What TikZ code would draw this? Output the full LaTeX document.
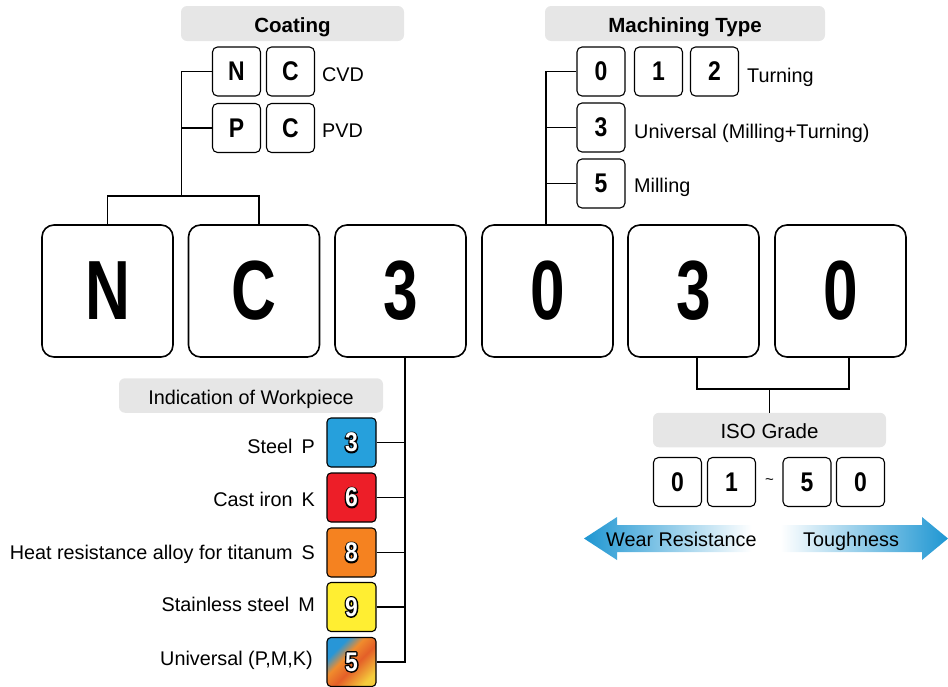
\documentclass[tikz,border=0pt]{standalone}
\usepackage{fontspec}
\setmainfont{Liberation Sans}
\newfontfamily\bigcond[FakeStretch=0.74]{Liberation Sans}
\newfontfamily\smallcond[FakeStretch=0.85]{Liberation Sans}
\definecolor{lgray}{RGB}{230,230,230}
\definecolor{pblue}{RGB}{38,160,220}
\definecolor{kred}{RGB}{237,30,40}
\definecolor{sorange}{RGB}{245,130,32}
\definecolor{myellow}{RGB}{255,238,50}
\definecolor{ablue}{RGB}{30,150,210}
\definecolor{rbblue}{RGB}{40,150,215}
\definecolor{rborange}{RGB}{240,140,45}
\definecolor{rbred}{RGB}{228,95,40}
\definecolor{rbyellow}{RGB}{245,205,60}
\pgfdeclarehorizontalshading{arrowshade}{100bp}{color(0bp)=(ablue); color(25bp)=(ablue); color(48bp)=(white); color(52bp)=(white); color(75bp)=(ablue); color(100bp)=(ablue)}
\pgfdeclarehorizontalshading{rainbowshade}{100bp}{color(0bp)=(rbblue); color(30bp)=(rbblue); color(42bp)=(rborange); color(55bp)=(rbred); color(75bp)=(rbyellow); color(100bp)=(rbyellow)}
\newcommand{\wnum}[1]{\makebox[0pt][l]{\special{pdf:literal direct 0 0 0 RG 1 Tr 2.8 w 1 j}#1\special{pdf:literal direct 0 Tr}}{\color{white}#1}}
\tikzset{
  bigbox/.style={draw, line width=1.6pt, rounded corners=12pt, minimum width=131pt, minimum height=132pt, inner sep=0pt, font=\bigcond\bfseries\fontsize{84}{84}\selectfont},
  smallbox/.style={draw, line width=1.1pt, rounded corners=5pt, minimum width=48pt, minimum height=49pt, inner sep=0pt, font=\smallcond\bfseries\fontsize{27}{27}\selectfont},
  colbox/.style={draw, line width=1.1pt, rounded corners=4pt, minimum width=49pt, minimum height=49pt, inner sep=0pt, font=\smallcond\bfseries\fontsize{27}{27}\selectfont},
  graylabel/.style={fill=lgray, rounded corners=6pt, inner sep=0pt, minimum height=35pt, text height=17pt, text depth=0pt},
  boldlbl/.style={font=\bfseries\fontsize{20.5}{20.5}\selectfont},
  lbl/.style={inner sep=0pt, font=\fontsize{19.8}{19.8}\selectfont},
  conn/.style={line width=1.3pt}
}
\begin{document}
\begin{tikzpicture}[x=1pt,y=-1pt]
\useasboundingbox (0,0) rectangle (948,686);

% big boxes
\node[bigbox] (bN) at (107.5,291) {N};
\node[bigbox] (bC) at (254,291) {C};
\node[bigbox] (bT) at (400.5,291) {3};
\node[bigbox] (bZ) at (547.5,291) {0};
\node[bigbox] (bTb) at (693.5,291) {3};
\node[bigbox] (bZb) at (840.5,291) {0};

% coating
\node[graylabel, boldlbl, minimum width=223pt] (coat) at (292.5,23.5) {Coating};
\node[smallbox] (cN) at (236.5,71.5) {N};
\node[smallbox] (cC1) at (290.5,71.5) {C};
\node[smallbox] (cP) at (236.5,128) {P};
\node[smallbox] (cC2) at (290.5,128) {C};
\node[lbl, anchor=base west] (cvd) at (322,81) {CVD};
\node[lbl, anchor=base west] (pvd) at (322,137.5) {PVD};
\coordinate (cvL) at (181.5,196);
\coordinate (cvR) at (259,196);
\draw[conn] (cN.west) -| (cvL);
\draw[conn] (cP.west) -- (cP.west -| cvL);
\draw[conn] (bN.north) |- (cvL) -- (cvR) -- (cvR |- bC.north);

% machining type
\node[graylabel, boldlbl, minimum width=280pt] (mach) at (685,23.5) {Machining Type};
\node[smallbox] (m0) at (601,71.5) {0};
\node[smallbox] (m1) at (658.5,71.5) {1};
\node[smallbox] (m2) at (714.5,71.5) {2};
\node[smallbox] (m3) at (601,127.5) {3};
\node[smallbox] (m5) at (601,183.5) {5};
\node[lbl, anchor=base west] (turn) at (747,82) {Turning};
\node[lbl, anchor=base west] (univ) at (634,138) {Universal (Milling+Turning)};
\node[lbl, anchor=base west] (mill) at (634,192.5) {Milling};
\coordinate (mv) at (546,225);
\draw[conn] (mv) |- (m0.west);
\draw[conn] (m3.west) -- (m3.west -| mv);
\draw[conn] (m5.west) -- (m5.west -| mv);

% ISO grade
\node[graylabel, font=\fontsize{20.5}{20.5}\selectfont, minimum width=233pt, minimum height=34.5pt] (iso) at (769.5,430) {ISO Grade};
\coordinate (isoL) at (697,389);
\coordinate (isoR) at (849,389);
\draw[conn] (isoL |- bTb.south) -- (isoL) -- (isoR) -- (isoR |- bZb.south);
\draw[conn] (769.5,389) -- (iso.north);
\node[smallbox] (i0) at (677.5,482) {0};
\node[smallbox] (i1) at (731.5,482) {1};
\node[inner sep=0pt, font=\fontsize{15}{15}\selectfont] (tl) at (769.5,482) {\textasciitilde};
\node[smallbox] (i5) at (807,482) {5};
\node[smallbox] (i0b) at (860.5,482) {0};

% arrow
\shade[shading=arrowshade] (584,538.5) -- (617,517) -- (617,525) -- (922,525) -- (922,517) -- (948,538.5) -- (922,560) -- (922,552) -- (617,552) -- (617,560) -- cycle;
\node[lbl, anchor=base west] (wr) at (606,546.7) {Wear Resistance};
\node[lbl, anchor=base west] (tg) at (803,546.7) {Toughness};

% workpiece
\node[graylabel, font=\fontsize{19.8}{19.8}\selectfont, minimum width=264pt, minimum height=34.5pt] (wp) at (251,395.5) {Indication of Workpiece};
\node[colbox, fill=pblue] (w3) at (351.5,442.5) {\wnum{3}};
\node[colbox, fill=kred] (w6) at (351.5,497.5) {\wnum{6}};
\node[colbox, fill=sorange] (w8) at (351.5,552.5) {\wnum{8}};
\node[colbox, fill=myellow] (w9) at (351.5,607) {\wnum{9}};
\node[colbox, shade, shading=rainbowshade, shading angle=-45] (w5) at (351.5,662) {\wnum{5}};
\node[lbl, anchor=base east] (lP) at (315,453.3) {Steel\hspace{9pt}P};
\node[lbl, anchor=base east] (lK) at (315,506) {Cast iron\hspace{9pt}K};
\node[lbl, anchor=base east] (lS) at (315,559.3) {Heat resistance alloy for titanum\hspace{9pt}S};
\node[lbl, anchor=base east] (lM) at (315,611.7) {Stainless steel\hspace{9pt}M};
\node[lbl, anchor=base east] (lU) at (313,665.7) {Universal (P,M,K)};
\coordinate (wv) at (405,662);
\draw[conn] (wv |- bT.south) -- (wv) -- (w5.east);
\draw[conn] (w3.east) -- (w3.east -| wv);
\draw[conn] (w6.east) -- (w6.east -| wv);
\draw[conn] (w8.east) -- (w8.east -| wv);
\draw[conn] (w9.east) -- (w9.east -| wv);
\end{tikzpicture}
\end{document}
